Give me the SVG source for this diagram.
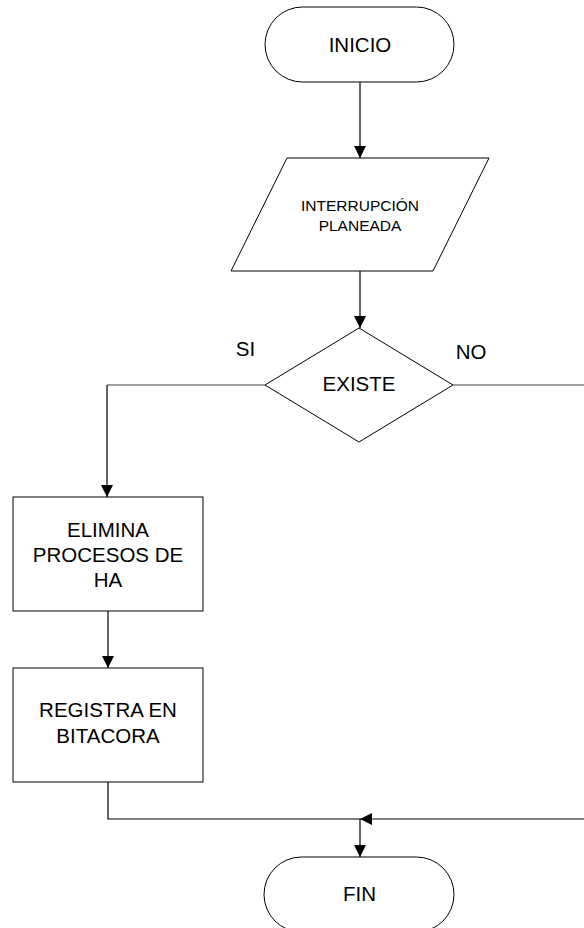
<svg xmlns="http://www.w3.org/2000/svg" width="584" height="928" viewBox="0 0 584 928">
<style>
.s{fill:#fff;stroke:#000;stroke-width:1}
.c{fill:none;stroke:#000;stroke-width:1.2}
.g{fill:none;stroke:#808080;stroke-width:1.5}
text{font-family:"Liberation Sans",Arial,sans-serif;fill:#000;text-anchor:middle}
.t16{font-size:20.5px}
.t11{font-size:15.5px}
</style>
<defs>
<marker id="ah" markerWidth="12" markerHeight="14" refX="12" refY="6" orient="auto" markerUnits="userSpaceOnUse">
<path d="M0,0 L12,6 L0,12 Z" fill="#000"/>
</marker>
</defs>
<rect width="584" height="928" fill="#fff"/>
<g id="connectors">
<line class="c" x1="360" y1="82" x2="360" y2="158" marker-end="url(#ah)"/>
<line class="c" x1="360" y1="271" x2="360" y2="328" marker-end="url(#ah)"/>
<polyline class="g" points="265,385 107,385"/>
<line class="c" x1="107" y1="385" x2="107" y2="497" marker-end="url(#ah)"/>
<line class="g" x1="453" y1="385" x2="584" y2="385"/>
<line class="c" x1="108" y1="611" x2="108" y2="668" marker-end="url(#ah)"/>
<polyline class="c" points="108,782 108,819 360,819"/>
<line class="c" x1="584" y1="819" x2="360" y2="819" marker-end="url(#ah)"/>
<line class="c" x1="360" y1="819" x2="360" y2="857" marker-end="url(#ah)"/>
</g>
<g id="inicio">
<rect class="s" x="265" y="7" width="189" height="75" rx="37.5" ry="37.5"/>
<text class="t16" x="360" y="52">INICIO</text>
</g>
<g id="interrupcion">
<polygon class="s" points="287,158 489,158 433,271 231,271"/>
<text class="t11" x="360" y="211">INTERRUPCIÓN</text>
<text class="t11" x="360" y="231">PLANEADA</text>
</g>
<g id="existe">
<polygon class="s" points="359,328 453,385 359,442 265,385"/>
<text class="t16" x="359" y="391">EXISTE</text>
</g>
<g id="label-si"><text class="t16" x="245.5" y="356">SI</text></g>
<g id="label-no"><text class="t16" x="471" y="359">NO</text></g>
<g id="elimina">
<rect class="s" x="13" y="497" width="190" height="114"/>
<text class="t16" x="108" y="537">ELIMINA</text>
<text class="t16" x="108" y="562">PROCESOS DE</text>
<text class="t16" x="108" y="587">HA</text>
</g>
<g id="registra">
<rect class="s" x="13" y="668" width="190" height="114"/>
<text class="t16" x="108" y="717">REGISTRA EN</text>
<text class="t16" x="108" y="743">BITACORA</text>
</g>
<g id="fin">
<rect class="s" x="264" y="857" width="190" height="75" rx="37.5" ry="37.5"/>
<text class="t16" x="359.5" y="901">FIN</text>
</g>
</svg>
